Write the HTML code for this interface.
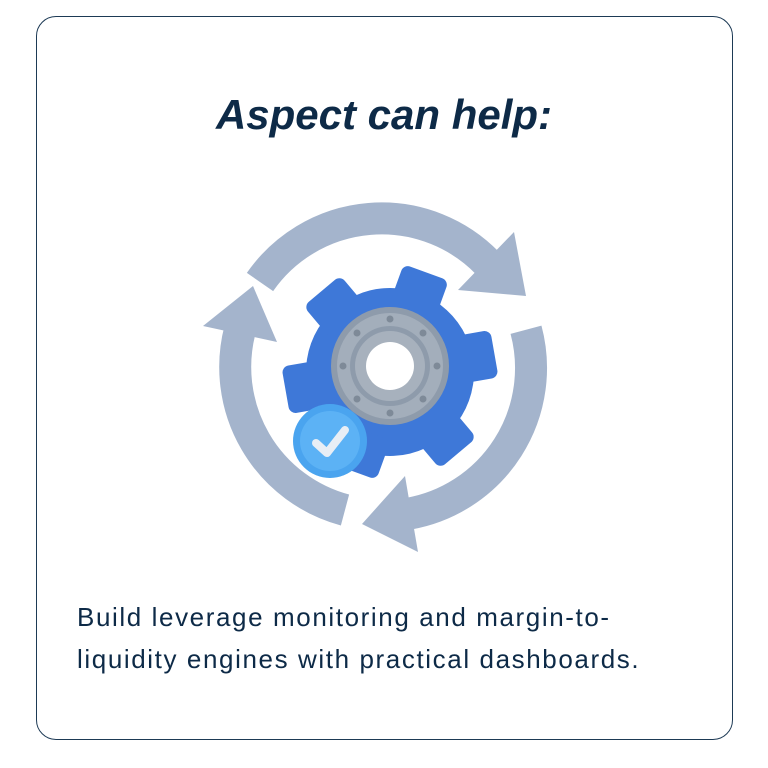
<!DOCTYPE html>
<html><head><meta charset="utf-8"><style>
html,body{margin:0;padding:0;background:#fff;width:768px;height:768px;overflow:hidden}
.card{position:absolute;left:36px;top:16px;width:697px;height:724px;border:1.5px solid #1d3a55;border-radius:20px;box-sizing:border-box}
.t{position:absolute;left:0;width:768px;text-align:center;top:91px;font:italic bold 42px "Liberation Sans",sans-serif;color:#0d2a47;white-space:nowrap}
.b{position:absolute;left:77px;top:596px;font:26px/42px "Liberation Sans",sans-serif;letter-spacing:1.6px;color:#0d2a47;white-space:nowrap}
svg{position:absolute;left:0;top:0}
</style></head><body>
<div class="card"></div>
<div class="t">Aspect can help:</div>
<svg width="768" height="768">
<g fill="none" stroke="#a4b4cc" stroke-width="32">
<path d="M 260 282 A 148 148 0 0 1 487.7 263.3"/>
<path d="M 526 329.7 A 148 148 0 0 1 408.7 513.7"/>
<path d="M 345 510 A 148 148 0 0 1 240 329.7"/>
</g>
<g fill="#a4b4cc">
<polygon points="514,232 458,290 526,296"/>
<polygon points="418,552 405,476 362,524"/>
<polygon points="203,326 277,342 253,286"/>
</g>
<g transform="translate(390,372) rotate(20)" fill="#3e78d8">
<circle r="84"/>
<g id="tooth"><rect x="-24" y="-106" width="48" height="42" rx="7"/></g>
<use href="#tooth" transform="rotate(60)"/>
<use href="#tooth" transform="rotate(120)"/>
<use href="#tooth" transform="rotate(180)"/>
<use href="#tooth" transform="rotate(240)"/>
<use href="#tooth" transform="rotate(300)"/>
</g>
<g transform="translate(390,366)">
<circle r="59" fill="#8e9bab"/>
<circle r="53" fill="#a3aebb"/>
<circle r="40" fill="#8e9bab"/>
<circle r="35" fill="#a7b1bd"/>
<circle r="24" fill="#fff"/>
<g fill="#7e8a98">
<circle cx="0" cy="-47" r="3.5"/><circle cx="33" cy="-33" r="3.5"/><circle cx="47" cy="0" r="3.5"/><circle cx="33" cy="33" r="3.5"/><circle cx="0" cy="47" r="3.5"/><circle cx="-33" cy="33" r="3.5"/><circle cx="-47" cy="0" r="3.5"/><circle cx="-33" cy="-33" r="3.5"/>
</g>
</g>
<circle cx="330" cy="441" r="37" fill="#4aa4ef"/>
<circle cx="330" cy="441" r="30" fill="#5cb2f5"/>
<path d="M 316 443 L 327 453 L 345 430" fill="none" stroke="#e8eef5" stroke-width="8" stroke-linecap="round" stroke-linejoin="round"/>
</svg>
<div class="b">Build leverage monitoring and margin-to-<br>liquidity engines with practical dashboards.</div>
</body></html>
